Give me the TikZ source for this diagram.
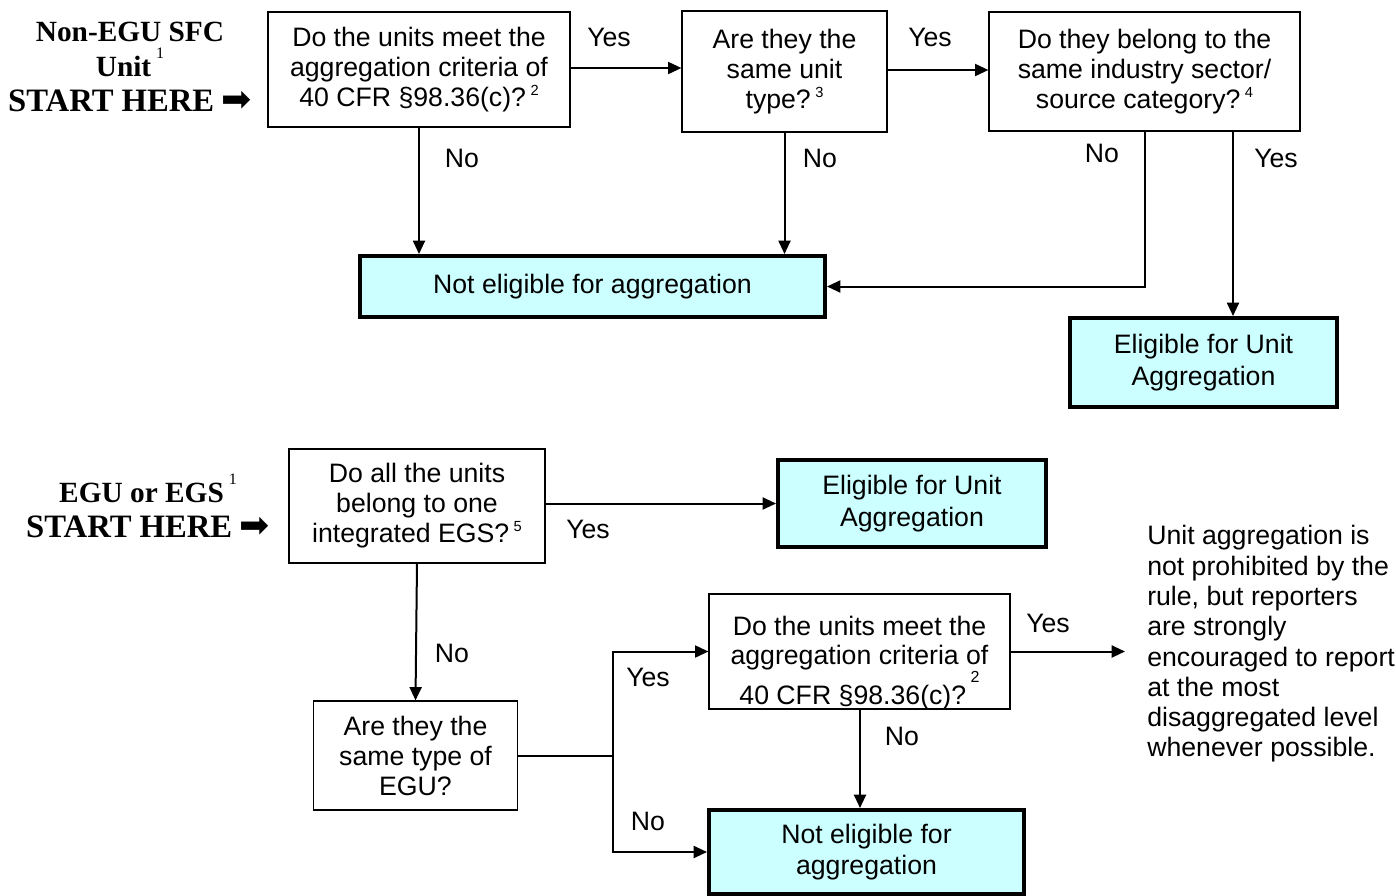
\documentclass[tikz,border=0pt]{standalone}
\usepackage{fontspec}
\setmainfont{Liberation Sans}
\newfontfamily\timesf{Liberation Serif}
\newfontfamily\dejavu{DejaVu Sans}
\usetikzlibrary{arrows.meta}
\definecolor{lightcyan}{HTML}{CCFFFF}
\newcommand{\sups}[1]{\,\raisebox{0.42em}{\fontsize{11}{11}\selectfont #1}}
\newcommand{\tsup}[1]{\,\raisebox{0.6em}{\mdseries\fontsize{12}{12}\selectfont #1}}
\newcommand{\startarrow}{{\dejavu\mdseries\fontsize{27}{27}\selectfont ➡}}
\begin{document}
\begin{tikzpicture}[x=0.75pt,y=-0.75pt,
  qbox/.style={draw, line width=0.9pt, align=center, inner sep=0pt, font=\fontsize{20}{22.5}\selectfont},
  rbox/.style={draw, line width=3pt, fill=lightcyan, align=center, inner sep=0pt, font=\fontsize{20}{23.5}\selectfont},
  conn/.style={line width=1.5pt},
  arr/.style={conn, -{Triangle[length=10pt,width=9pt]}},
  lbl/.style={font=\fontsize{20}{23.5}\selectfont, inner sep=0pt},
  startlbl/.style={font=\timesf\bfseries\fontsize{22}{26.5}\selectfont, align=center, inner sep=0pt}
]
\useasboundingbox (0,0) rectangle (1396,896);

% ---- top part ----
\node[startlbl] (s1) at (130,67) {Non-EGU SFC\\Unit\tsup{1}\\{\fontsize{24.5}{26.5}\selectfont START HERE} \startarrow};

\node[qbox, minimum width=226.5pt, minimum height=86.25pt] (A1) at (419,69.5)
  {Do the units meet the\\aggregation criteria of\\40 CFR §98.36(c)?\sups{2}};
\node[qbox, minimum width=153.75pt, minimum height=90.75pt] (A2) at (784.5,71.5)
  {Are they the\\same unit\\type?\sups{3}};
\node[qbox, minimum width=233.25pt, minimum height=89.25pt] (A3) at (1144.5,71.5)
  {Do they belong to the\\same industry sector/\\source category?\sups{4}};
\node[rbox, minimum width=348.75pt, minimum height=45.75pt] (N1) at (592.5,286.5)
  {Not eligible for aggregation};
\node[rbox, minimum width=200.25pt, minimum height=66.75pt] (E1) at (1203.5,362.5)
  {Eligible for Unit\\Aggregation};

\coordinate (a3n) at (1145,131);
\coordinate (a3y) at (1233,131);

\draw[arr] (A1.east |- 0,68) -- (A2.west |- 0,68);
\draw[arr] (A2.east |- 0,70) -- (A3.west |- 0,70);
\draw[arr] (A1.south) -- (A1.south |- N1.north);
\draw[arr] (A2.south) -- (A2.south |- N1.north);
\draw[arr] (a3n) |- (N1.east);
\draw[arr] (a3y) -- (a3y |- E1.north);

\node[lbl] (y1) at (609,37) {Yes};
\node[lbl] (y2) at (930,37) {Yes};
\node[lbl] (n1) at (462,158) {No};
\node[lbl] (n2) at (820,158) {No};
\node[lbl] (n3) at (1102,153) {No};
\node[lbl] (y3) at (1276,158) {Yes};

% ---- bottom part ----
\node[startlbl] (s2) at (148,506) {EGU or EGS\tsup{1}\\{\fontsize{24.5}{26.5}\selectfont START HERE} \startarrow};

\node[qbox, minimum width=192pt, minimum height=85.5pt] (B1) at (417,506)
  {Do all the units\\belong to one\\integrated EGS?\sups{5}};
\node[rbox, minimum width=201pt, minimum height=65.25pt] (E2) at (912,503.5)
  {Eligible for Unit\\Aggregation};
\node[qbox, minimum width=153pt, minimum height=81.75pt] (B2) at (415.5,755.5)
  {Are they the\\same type of\\EGU?};
\node[qbox, minimum width=225.75pt, minimum height=86.25pt] (B3) at (859.5,651.5) {};
\node[lbl, align=center, font=\fontsize{20}{21.75}\selectfont] (B3t) at (859.5,663)
  {Do the units meet the\\aggregation criteria of\\40 CFR §98.36(c)?\,\raisebox{0.85em}{\fontsize{12}{12}\selectfont 2}};
\node[rbox, minimum width=236.25pt, minimum height=63pt] (N2) at (866.5,852)
  {Not eligible for\\aggregation};
\node[font=\fontsize{20}{22.7}\selectfont, align=left, inner sep=0pt, anchor=west] (note) at (1147,644)
  {Unit aggregation is\\not prohibited by the\\rule, but reporters\\are strongly\\encouraged to report\\at the most\\disaggregated level\\whenever possible.};

\coordinate (j) at (613,756);
\coordinate (b3s) at (860,709);
\coordinate (noteend) at (1125,651.5);

\draw[arr] (B1.east |- 0,503.5) -- (E2.west);
\draw[arr] (B1.south) -- (B2.north);
\draw[conn] (B2.east |- j) -- (j);
\draw[arr] (j) |- (B3.west);
\draw[arr] (j) |- (N2.west);
\draw[arr] (B3.east) -- (noteend);
\draw[arr] (b3s) -- (b3s |- N2.north);

\node[lbl] (y4) at (588,529) {Yes};
\node[lbl] (n4) at (452,653) {No};
\node[lbl] (y5) at (648,677) {Yes};
\node[lbl] (n5) at (648,821) {No};
\node[lbl] (y6) at (1048,623) {Yes};
\node[lbl] (n6) at (902,736) {No};
\end{tikzpicture}
\end{document}
